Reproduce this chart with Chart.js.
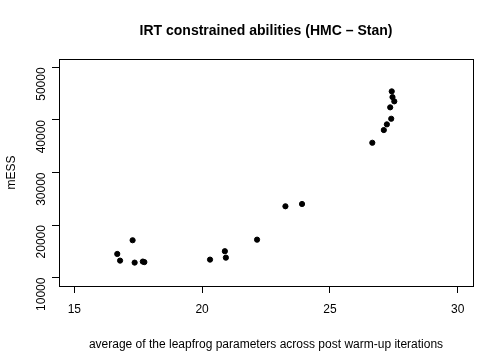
<!DOCTYPE html>
<html>
<head>
    <title>IRT constrained abilities</title>
    <script src="https://cdn.jsdelivr.net/npm/chart.js@4/dist/chart.umd.min.js"></script>
    <style>
        body { margin: 0; background: #fff; }
        #wrap { width: 504px; height: 360px; }
    </style>
</head>
<body>
    <div id="wrap"><canvas id="plot"></canvas></div>

    <script>
        // average leapfrog steps vs mESS
        const leapfrog = [16.68, 16.79, 17.28, 17.36, 17.68, 17.74, 20.31, 20.89, 20.93, 22.15,
                          23.26, 23.91, 26.66, 27.11, 27.23, 27.40, 27.36, 27.52, 27.45, 27.42];
        const mess = [14500, 13230, 17110, 12850, 13050, 12950, 13420, 15020, 13800, 17220,
                      23570, 24010, 35660, 38080, 39160, 40230, 42400, 43540, 44350, 45440];
        const xTicks = [15, 20, 25, 30];
        const yTicks = [10000, 20000, 30000, 40000, 50000];

        const font = 'Liberation Sans, Arial, Helvetica, sans-serif';
        const mainTitle = 'IRT constrained abilities (HMC \u2013 Stan)';

        // R-style box around the plot region, title centred over it
        const boxPlugin = {
            id: 'box',
            afterDraw(chart) {
                const a = chart.chartArea;
                const ctx = chart.ctx;
                ctx.save();
                ctx.strokeStyle = '#000';
                ctx.lineWidth = 1;
                ctx.strokeRect(Math.round(a.left) + 0.5, Math.round(a.top) + 0.5,
                    Math.round(a.right - a.left), Math.round(a.bottom - a.top));
                ctx.fillStyle = '#000';
                ctx.font = 'bold 14px ' + font;
                ctx.textAlign = 'center';
                ctx.textBaseline = 'middle';
                ctx.fillText(mainTitle, (a.left + a.right) / 2, 31);
                ctx.restore();
            }
        };

        const points = leapfrog.map((x, i) => ({ x: x, y: mess[i] }));

        new Chart(document.getElementById('plot'), {
            type: 'scatter',
            data: {
                datasets: [{
                    data: points,
                    backgroundColor: '#000',
                    borderColor: '#000',
                    pointRadius: 2.6,
                    pointHoverRadius: 2.6
                }]
            },
            options: {
                responsive: true,
                maintainAspectRatio: false,
                animation: false,
                layout: { padding: { top: 59, right: 31, bottom: 8, left: 0 } },
                plugins: {
                    legend: { display: false },
                    tooltip: { enabled: false },
                    title: { display: false }
                },
                scales: {
                    x: {
                        type: 'linear',
                        min: 14.4,
                        max: 30.6,
                        afterBuildTicks: s => { s.ticks = xTicks.map(v => ({ value: v })); },
                        afterFit: s => { s.height = 66; },
                        grid: { drawOnChartArea: false, drawTicks: true, tickLength: 7, color: '#000' },
                        border: { display: false },
                        ticks: { color: '#000', font: { family: font, size: 12 }, padding: 9, maxRotation: 0 },
                        title: {
                            display: true,
                            text: 'average of the leapfrog parameters across post warm-up iterations',
                            color: '#000',
                            font: { family: font, size: 12 },
                            padding: { top: 14, bottom: 0 }
                        }
                    },
                    y: {
                        type: 'linear',
                        min: 8400,
                        max: 51600,
                        afterBuildTicks: s => { s.ticks = yTicks.map(v => ({ value: v })); },
                        afterFit: s => { s.width = 59; },
                        grid: { drawOnChartArea: false, drawTicks: true, tickLength: 7, color: '#000' },
                        border: { display: false },
                        ticks: {
                            color: '#000',
                            font: { family: font, size: 12 },
                            padding: 10,
                            minRotation: 90,
                            maxRotation: 90,
                            callback: v => String(v)
                        },
                        title: {
                            display: true,
                            text: 'mESS',
                            color: '#000',
                            font: { family: font, size: 12 },
                            padding: { top: 4, bottom: 0 }
                        }
                    }
                }
            },
            plugins: [boxPlugin]
        });
    </script>
</body>
</html>
